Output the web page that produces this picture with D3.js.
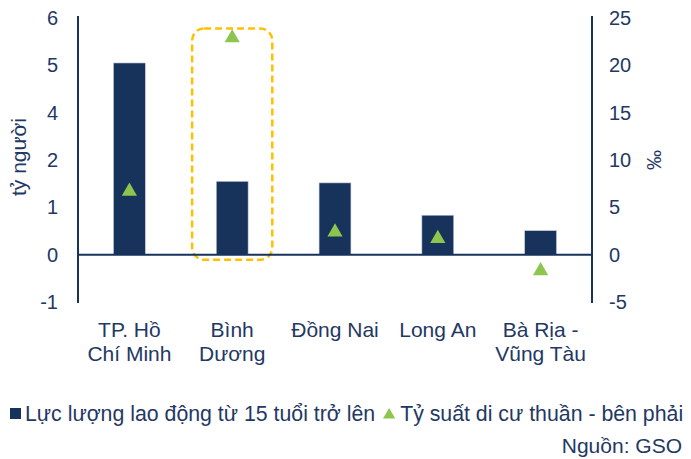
<!DOCTYPE html>
<html>
<head>
<meta charset="utf-8">
<script src="https://cdn.jsdelivr.net/npm/d3@7"></script>
<style>
  html, body { margin: 0; padding: 0; background: #ffffff; }
  svg { display: block; font-family: "Liberation Sans", Arial, sans-serif; }
</style>
</head>
<body>
<svg id="chart" width="691" height="459"></svg>
<script>
// Provinces (two-line labels)
const provinces = [
  ["TP. Hồ", "Chí Minh"],
  ["Bình", "Dương"],
  ["Đồng Nai"],
  ["Long An"],
  ["Bà Rịa -", "Vũng Tàu"]
];
// Labour force aged 15+ (billion people) – left axis
const labourForce = [4.86, 1.86, 1.82, 1.0, 0.61];
// Net migration rate (‰) – right axis
const netMigration = [6.8, 23.0, 2.5, 1.8, -1.6];

// Left axis: ticks sit on the same gridline positions as the right axis
const leftTickValues = [-1.2, 0, 1.2, 2.4, 3.6, 4.8, 6];
const leftTickLabels = ["-1", "0", "1", "2", "4", "5", "6"];
const rightTickValues = [-5, 0, 5, 10, 15, 20, 25];

const legendLabels = ["Lực lượng lao động từ 15 tuổi trở lên", "Tỷ suất di cư thuần - bên phải"];
const sourceNote = "Nguồn: GSO";
const leftTitle = "tỷ người";
const rightTitle = "‰";

const navy = "#17335B";
const textColor = "#1F3864";
const green = "#8DC54F";
const highlight = "#FFC000";

const svg = d3.select("#chart");
const plot = { left: 78, right: 592, top: 18, bottom: 302 };

const keys = provinces.map(p => p.join(" "));
const x = d3.scaleBand().domain(keys).range([plot.left, plot.right]).padding(0);
const barW = x.bandwidth() * 0.31;
const yL = d3.scaleLinear().domain([-1.2, 6]).range([plot.bottom, plot.top]);
const yR = d3.scaleLinear().domain([-5, 25]).range([plot.bottom, plot.top]);

// Highlight box around Bình Dương
const hiKey = keys[1];
const hiCx = x(hiKey) + x.bandwidth() / 2;
svg.append("rect")
  .attr("x", hiCx - x.bandwidth() * 0.39)
  .attr("y", yR(25) + 10.5)
  .attr("width", x.bandwidth() * 0.78)
  .attr("height", yL(0) + 5 - (yR(25) + 10.5))
  .attr("rx", 12).attr("ry", 12)
  .attr("fill", "none")
  .attr("stroke", highlight)
  .attr("stroke-width", 2.5)
  .attr("stroke-dasharray", "7,4");

// Bars
svg.append("g").selectAll("rect")
  .data(labourForce)
  .join("rect")
  .attr("x", (d, i) => x(keys[i]) + x.bandwidth() / 2 - barW / 2)
  .attr("y", d => yL(Math.max(0, d)))
  .attr("width", barW)
  .attr("height", d => Math.abs(yL(d) - yL(0)))
  .attr("fill", navy)
  .attr("stroke", "#c8d0dc")
  .attr("stroke-width", 0.6);

// Zero line
svg.append("line")
  .attr("x1", plot.left).attr("x2", plot.right)
  .attr("y1", yL(0)).attr("y2", yL(0))
  .attr("stroke", navy).attr("stroke-width", 2);

// Left axis
const axL = svg.append("g").attr("transform", `translate(${plot.left},0)`)
  .call(d3.axisLeft(yL).tickValues(leftTickValues)
    .tickFormat((d, i) => leftTickLabels[i]).tickSize(0).tickPadding(20));
axL.select(".domain").attr("stroke", navy).attr("stroke-width", 2)
  .attr("d", `M0,${plot.top - 2}V${plot.bottom + 1}`);
axL.selectAll("text").attr("font-size", 20).attr("fill", textColor)
  .attr("font-family", "Liberation Sans, Arial, sans-serif");

// Right axis (plain hyphen for negatives)
const axR = svg.append("g").attr("transform", `translate(${plot.right},0)`)
  .call(d3.axisRight(yR).tickValues(rightTickValues)
    .tickFormat(d => String(d)).tickSize(0).tickPadding(17));
axR.select(".domain").attr("stroke", navy).attr("stroke-width", 2)
  .attr("d", `M0,${plot.top - 2}V${plot.bottom + 1}`);
axR.selectAll("text").attr("font-size", 20).attr("fill", textColor)
  .attr("font-family", "Liberation Sans, Arial, sans-serif");

// Triangles (net migration)
svg.append("g").selectAll("path")
  .data(netMigration)
  .join("path")
  .attr("d", d3.symbol(d3.symbolTriangle, 100))
  .attr("transform", (d, i) => `translate(${x(keys[i]) + x.bandwidth() / 2},${yR(d) + 1})`)
  .attr("fill", green);

// Category labels
const cat = svg.append("g");
provinces.forEach((lines, i) => {
  const t = cat.append("text")
    .attr("x", x(keys[i]) + x.bandwidth() / 2)
    .attr("y", 337)
    .attr("text-anchor", "middle")
    .attr("font-size", 21)
    .attr("fill", textColor);
  lines.forEach((ln, j) => {
    t.append("tspan").attr("x", x(keys[i]) + x.bandwidth() / 2)
      .attr("dy", j === 0 ? 0 : 24).text(ln);
  });
});

// Axis titles
svg.append("text")
  .attr("transform", `translate(26,157) rotate(-90)`)
  .attr("text-anchor", "middle")
  .attr("font-size", 21).attr("fill", textColor)
  .text(leftTitle);
svg.append("text")
  .attr("transform", `translate(661,160) rotate(-90)`)
  .attr("text-anchor", "middle")
  .attr("font-size", 20).attr("fill", textColor)
  .text(rightTitle);

// Legend
const lg = svg.append("g");
lg.append("rect").attr("x", 10).attr("y", 408).attr("width", 11).attr("height", 11).attr("fill", navy);
const lt1 = lg.append("text").attr("x", 25).attr("y", 421)
  .attr("font-size", 21.3).attr("fill", textColor).text(legendLabels[0]);
const w1 = lt1.node().getComputedTextLength();
lg.append("path")
  .attr("d", d3.symbol(d3.symbolTriangle, 65))
  .attr("transform", `translate(${25 + w1 + 14},415)`)
  .attr("fill", green);
lg.append("text").attr("x", 25 + w1 + 25).attr("y", 421)
  .attr("font-size", 21.3).attr("fill", textColor).text(legendLabels[1]);

svg.append("text").attr("x", 682).attr("y", 453)
  .attr("text-anchor", "end")
  .attr("font-size", 21).attr("fill", textColor).text(sourceNote);
</script>
</body>
</html>
